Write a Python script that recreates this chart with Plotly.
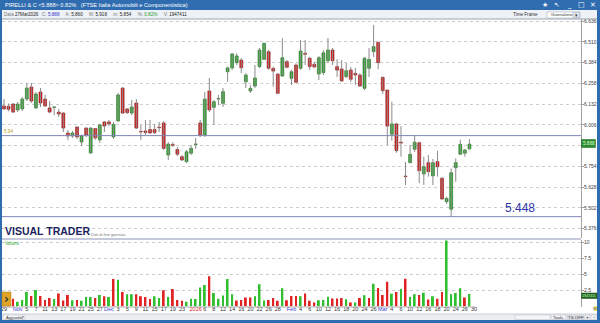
import plotly.graph_objects as go
import pandas as pd

# ---------------- data ----------------
holidays = ["2025-12-24", "2025-12-25", "2025-12-26", "2025-12-31", "2026-01-01"]
axis_dates = [d.strftime("%Y-%m-%d") for d in pd.bdate_range("2025-10-29", "2026-03-30")
              if d.strftime("%Y-%m-%d") not in holidays]

opens = [6.120, 6.118, 6.132, 6.096, 6.102, 6.162, 6.235, 6.108, 6.205, 6.162,
         6.108, 6.111, 6.083, 6.077, 5.956, 5.938, 5.992, 5.901, 5.986, 5.835,
         5.983, 5.914, 6.023, 6.023, 5.932, 6.029, 6.229, 6.102, 6.077, 6.138,
         5.965, 5.968, 5.977, 5.977, 5.989, 6.017, 5.822, 5.886, 5.856, 5.812,
         5.782, 5.833, 5.886, 6.017, 5.944, 6.211, 6.112, 6.162, 6.136, 6.328,
         6.351, 6.383, 6.399, 6.267, 6.211, 6.241, 6.359, 6.403, 6.450, 6.348,
         6.314, 6.302, 6.389, 6.288, 6.369, 6.349, 6.440, 6.410, 6.373, 6.314,
         6.322, 6.395, 6.460, 6.359, 6.345, 6.298, 6.339, 6.318, 6.308, 6.227,
         6.349, 6.450, 6.507, 6.294, 6.217, 5.948, 6.011, 5.900, 5.692, 5.776,
         5.857, 5.897, 5.707, 5.776, 5.695, 5.782, 5.681, 5.539, 5.493, 5.745,
         5.827, 5.833, 5.860]
highs = [6.162, 6.135, 6.138, 6.144, 6.175, 6.260, 6.260, 6.205, 6.229, 6.187,
         6.150, 6.117, 6.102, 6.083, 5.974, 5.968, 5.998, 5.948, 5.992, 5.992,
         5.986, 6.011, 6.029, 6.035, 6.023, 6.199, 6.235, 6.108, 6.156, 6.162,
         6.005, 6.035, 6.035, 6.011, 6.023, 6.029, 5.901, 5.901, 5.871, 5.822,
         5.853, 5.883, 5.926, 6.035, 6.205, 6.290, 6.156, 6.187, 6.229, 6.359,
         6.442, 6.440, 6.411, 6.320, 6.247, 6.369, 6.472, 6.504, 6.460, 6.359,
         6.318, 6.531, 6.399, 6.339, 6.379, 6.521, 6.521, 6.419, 6.389, 6.424,
         6.460, 6.533, 6.472, 6.405, 6.399, 6.381, 6.357, 6.351, 6.320, 6.417,
         6.472, 6.612, 6.510, 6.298, 6.217, 6.146, 6.017, 5.998, 5.781, 5.883,
         5.944, 5.903, 5.812, 5.822, 5.798, 5.848, 5.689, 5.569, 5.741, 5.802,
         5.914, 5.860, 5.918]
lows = [6.096, 6.088, 6.077, 6.083, 6.090, 6.150, 6.138, 6.102, 6.114, 6.114,
        6.077, 6.065, 6.053, 5.962, 5.914, 5.926, 5.920, 5.877, 5.932, 5.828,
        5.914, 5.895, 5.962, 5.998, 5.920, 6.023, 6.071, 6.071, 6.065, 5.980,
        5.914, 5.944, 5.950, 5.950, 5.962, 5.853, 5.792, 5.871, 5.816, 5.786,
        5.774, 5.822, 5.859, 5.932, 5.932, 6.083, 6.005, 6.126, 6.114, 6.267,
        6.339, 6.369, 6.320, 6.229, 6.199, 6.229, 6.351, 6.399, 6.339, 6.237,
        6.193, 6.296, 6.349, 6.247, 6.258, 6.339, 6.369, 6.339, 6.349, 6.278,
        6.308, 6.381, 6.369, 6.296, 6.266, 6.290, 6.266, 6.247, 6.235, 6.217,
        6.296, 6.417, 6.343, 6.193, 5.883, 5.909, 5.836, 5.812, 5.640, 5.772,
        5.841, 5.651, 5.640, 5.691, 5.640, 5.691, 5.549, 5.525, 5.448, 5.660,
        5.822, 5.812, 5.854]
closes = [6.102, 6.100, 6.083, 6.132, 6.162, 6.229, 6.150, 6.193, 6.138, 6.120,
          6.083, 6.114, 6.071, 5.986, 5.938, 5.956, 5.932, 5.938, 5.944, 5.986,
          5.926, 6.005, 5.998, 6.011, 6.008, 6.187, 6.077, 6.080, 6.114, 5.986,
          5.962, 5.959, 5.956, 5.958, 5.988, 5.862, 5.889, 5.881, 5.827, 5.792,
          5.842, 5.863, 5.887, 5.944, 6.162, 6.096, 6.146, 6.164, 6.207, 6.351,
          6.436, 6.424, 6.352, 6.308, 6.227, 6.290, 6.460, 6.501, 6.349, 6.332,
          6.197, 6.413, 6.355, 6.328, 6.264, 6.454, 6.434, 6.359, 6.357, 6.413,
          6.443, 6.460, 6.395, 6.338, 6.272, 6.334, 6.282, 6.308, 6.241, 6.410,
          6.403, 6.480, 6.383, 6.213, 5.998, 6.011, 5.849, 5.895, 5.691, 5.827,
          5.900, 5.727, 5.751, 5.721, 5.776, 5.751, 5.555, 5.559, 5.715, 5.776,
          5.887, 5.853, 5.888]
volumes_m = [1.40, 1.20, 1.22, 0.74, 1.03, 2.27, 1.64, 2.59, 1.64, 1.03,
             1.32, 1.19, 2.05, 0.93, 1.81, 0.98, 1.03, 0.88, 1.49, 1.49,
             1.32, 1.81, 1.62, 1.49, 4.30, 4.19, 2.27, 1.91, 1.91, 1.91,
             1.62, 1.49, 1.19, 1.62, 1.32, 2.53, 1.49, 2.74, 1.03, 0.88,
             0.74, 1.23, 1.19, 2.98, 3.37, 4.72, 2.10, 1.23, 1.71, 4.30,
             1.91, 0.93, 1.03, 1.42, 1.42, 1.62, 3.47, 0.93, 1.03, 1.32,
             0.88, 2.84, 0.98, 1.64, 1.64, 1.62, 2.05, 0.88, 0.64, 0.98,
             1.03, 1.52, 1.26, 1.26, 1.32, 1.13, 0.64, 0.64, 1.32, 1.76,
             1.32, 3.57, 2.88, 1.81, 3.86, 2.00, 2.27, 2.74, 4.35, 1.49,
             1.91, 1.81, 2.16, 1.08, 1.62, 1.23, 2.27, 10.30, 1.91, 2.10,
             2.84, 1.42, 1.95]

price_ticks = [6.636, 6.510, 6.384, 6.258, 6.132, 6.006, 5.880, 5.754, 5.628, 5.502, 5.376]
price_tick_text = ["6.636", "6.510", "6.384", "6.258", "6.132", "6.006", "",
                   "5.754", "5.628", "5.502", "5.376"]
vol_ticks = [2.5, 5, 7.5, 10]
vol_tick_text = ["2.5", "5", "7.5", "10"]
drawn_line_level = 5.940
support_level = 5.448
last_close_text = "5.888"
last_volume_text = "1947411"

tick_dates = ["2025-10-29", "2025-11-03", "2025-11-05", "2025-11-07", "2025-11-11", "2025-11-13",
              "2025-11-17", "2025-11-19", "2025-11-21", "2025-11-25", "2025-11-27", "2025-12-01",
              "2025-12-03", "2025-12-05", "2025-12-09", "2025-12-11", "2025-12-15", "2025-12-17",
              "2025-12-19", "2025-12-23", "2026-01-02", "2026-01-06", "2026-01-08", "2026-01-12",
              "2026-01-14", "2026-01-16", "2026-01-20", "2026-01-22", "2026-01-26", "2026-01-28",
              "2026-02-02", "2026-02-04", "2026-02-06", "2026-02-10", "2026-02-12", "2026-02-16",
              "2026-02-18", "2026-02-20", "2026-02-24", "2026-02-26", "2026-03-02", "2026-03-04",
              "2026-03-06", "2026-03-10", "2026-03-12", "2026-03-16", "2026-03-18", "2026-03-20",
              "2026-03-24", "2026-03-26", "2026-03-30"]
tick_labels = ["29", "Nov", "5", "7", "11", "13", "17", "19", "21", "25", "27", "Dec",
               "3", "5", "9", "11", "15", "17", "19", "23", "2026", "6", "8", "12",
               "14", "16", "20", "22", "26", "28", "Feb", "4", "6", "10", "12", "16",
               "18", "20", "24", "26", "Mar", "4", "6", "10", "12", "16", "18", "20",
               "24", "26", "30"]

# ---------------- derived ----------------
n = len(closes)
idx = list(range(n))
GREEN, GREEN_D = "#35b035", "#1d6d1d"
RED, RED_D = "#e02020", "#8c1010"

wx, wy = [], []
for i in idx:
    wx += [i, i, None]
    wy += [lows[i], highs[i], None]

body_base = [min(o, c) for o, c in zip(opens, closes)]
body_h = [max(abs(c - o), 0.0035) for o, c in zip(opens, closes)]
body_col = [GREEN if c >= o else RED for o, c in zip(opens, closes)]
body_edge = [GREEN_D if c >= o else RED_D for o, c in zip(opens, closes)]

vol_col = []
for i in idx:
    ref = closes[i - 1] if i > 0 else opens[i]
    vol_col.append("#2fbf2f" if closes[i] >= ref else "#e02424")

def tick_fmt(t):
    if t in ("Nov", "Dec", "Feb", "Mar"):
        return "<span style='color:#3b3bd0'>%s</span>" % t
    if t == "2026":
        return "<span style='color:#e02020'>%s</span>" % t
    return t

tick_pos = [axis_dates.index(d) for d in tick_dates]

# ---------------- geometry helpers (page pixels -> paper) ----------------
W, H = 600, 323
def px(x): return x / W
def py(y): return 1 - y / H

X0, X1 = 2, 581
PRICE_TOP, PRICE_BOT = 19, 238
VOL_TOP, VOL_BOT = 240, 306.5
step = 4.563
xr = [(X0 - 4) / step, (X1 - 4) / step]

fig = go.Figure()
fig.add_trace(go.Scatter(x=wx, y=wy, mode="lines", line=dict(color="#8a8a8a", width=1),
                         xaxis="x", yaxis="y", hoverinfo="skip"))
fig.add_trace(go.Bar(x=idx, y=body_h, base=body_base, width=0.64,
                     marker=dict(color=body_col, line=dict(color=body_edge, width=0.6)),
                     xaxis="x", yaxis="y"))
fig.add_trace(go.Bar(x=idx, y=volumes_m, width=0.42, marker=dict(color=vol_col, line=dict(width=0)),
                     xaxis="x2", yaxis="y2"))

axis_font = dict(family="Liberation Sans", size=5, color="#404040")
fig.update_layout(
    width=W, height=H, margin=dict(l=0, r=0, t=0, b=0),
    paper_bgcolor="white", plot_bgcolor="white", showlegend=False, barmode="overlay",
    xaxis=dict(domain=[px(X0), px(X1)], range=xr, showticklabels=False, showgrid=False,
               zeroline=False, anchor="y"),
    yaxis=dict(domain=[py(PRICE_BOT), py(PRICE_TOP)], range=[6.7635 - 0.006072 * PRICE_BOT,
               6.7635 - 0.006072 * PRICE_TOP], side="right", tickvals=price_ticks,
               ticktext=price_tick_text, tickfont=axis_font, showgrid=True, gridcolor="#cdcdcd",
               griddash="dot", gridwidth=1, zeroline=False, showline=True, linecolor="#a0a0a0",
               linewidth=1, ticks="outside", ticklen=2, tickcolor="#a0a0a0", anchor="x",
               ticklabelstandoff=-1),
    xaxis2=dict(domain=[px(X0), px(X1)], range=xr, matches="x", anchor="y2",
                tickvals=tick_pos, ticktext=[tick_fmt(t) for t in tick_labels],
                tickfont=dict(family="Liberation Sans", size=5.5, color="#303030"),
                showgrid=False, zeroline=False, ticks="", tickangle=0, ticklabelstandoff=-2),
    yaxis2=dict(domain=[py(VOL_BOT), py(VOL_TOP)], range=[0, (VOL_BOT - VOL_TOP) / 6.4],
                side="right", tickvals=vol_ticks, ticktext=vol_tick_text, tickfont=axis_font,
                showgrid=True, gridcolor="#cdcdcd", griddash="dot", zeroline=False,
                showline=True, linecolor="#a0a0a0", linewidth=1, ticks="outside", ticklen=2,
                tickcolor="#a0a0a0", anchor="x2", ticklabelstandoff=-1),
)

shapes = []
def rect(x0, y0, x1, y1, fill, line=None, lw=0, layer="above"):
    shapes.append(dict(type="rect", xref="paper", yref="paper", x0=px(x0), x1=px(x1),
                       y0=py(y1), y1=py(y0), fillcolor=fill,
                       line=dict(color=line or fill, width=lw), layer=layer))
def hline(x0, x1, y, color, w=1):
    shapes.append(dict(type="line", xref="paper", yref="paper", x0=px(x0), x1=px(x1),
                       y0=py(y), y1=py(y), line=dict(color=color, width=w), layer="above"))

BLUE = "#2f6db0"
# title bar and toolbar
rect(0, 0, 600, 10, BLUE)
rect(0, 10, 600, 19, "#eef1f5")
hline(0, 600, 19, "#9aa5b5")
# window borders
rect(0, 10, 2, 323, BLUE)
rect(597, 10, 600, 323, BLUE)
rect(0, 320, 600, 323, BLUE)
# bottom bar
rect(2, 314, 597, 320, "#eceef1")
hline(2, 597, 314, "#c9ced6")
# panel separator
hline(2, 581, 239, "#8b93b8")
# drawn horizontal lines (data coordinates)
for lvl in (drawn_line_level, support_level):
    shapes.append(dict(type="line", xref="x", yref="y", x0=xr[0], x1=xr[1], y0=lvl, y1=lvl,
                       line=dict(color="#7f86b8", width=1), layer="above"))
# x axis baseline
shapes.append(dict(type="line", xref="x2", yref="paper", x0=xr[0], x1=len(axis_dates) - 1 + 0.3,
                   y0=py(VOL_BOT + 0.5), y1=py(VOL_BOT + 0.5), line=dict(color="#b0b0b0", width=1)))
# last price / last volume boxes
rect(581.5, 139.5, 595.5, 147.5, "#2e8b2e", "#1d5e1d", 0.5)
rect(581.5, 293, 597, 298.5, "#1f6a1f", "#144514", 0.5)
# scroll button in volume panel
rect(2, 292, 11, 306, "#e0a526", "#b07a10", 0.5)
# bottom bar widgets
rect(3, 315, 19, 319.5, "#f7f7f7", "#b8bec8", 0.5)
rect(20.5, 315, 25, 319.5, "#f7f7f7", "#b8bec8", 0.5)
rect(515, 315, 550, 319.5, "#f4f5f7", "#b8bec8", 0.5)
rect(551, 315, 566, 319.5, "#f4f5f7", "#b8bec8", 0.5)
rect(567, 315, 584, 319.5, "#dfe3ea", "#b8bec8", 0.5)
rect(585, 315, 590, 319.5, "#f4f5f7", "#b8bec8", 0.5)
rect(591, 315, 596, 319.5, "#f4f5f7", "#b8bec8", 0.5)
# time frame dropdown
rect(547, 12, 580, 18, "white", "#9aa5b5", 0.5)
rect(573, 12.5, 579.5, 17.5, "#e4e8ee", "#9aa5b5", 0.5)
# ML marker
rect(594, 306, 597, 311, "#f3e36a")
fig.update_layout(shapes=shapes)

ann = []
def text(x, y, s, size=5, color="#333", xa="left", ya="middle", bold=False, family="Liberation Sans"):
    if bold:
        s = "<b>%s</b>" % s
    ann.append(dict(xref="paper", yref="paper", x=px(x), y=py(y), text=s, showarrow=False,
                    xanchor=xa, yanchor=ya, font=dict(size=size, color=color, family=family)))

text(3, 5, "PIRELLI &amp; C &lt;5.888&gt; 0.82%   (FTSE Italia Automobili e Componentistica)",
     size=5.6, color="white")
for xx, sym in [(545, "★"), (557, "↖"), (569, "_"), (581, "□"), (593, "✕")]:
    text(xx, 5, sym, size=7, color="white", xa="center", family="DejaVu Sans")
text(2, 14.5, "<span style='color:#777'>Data</span> 27Mar2026   <span style='color:#777'>C:</span> "
     "<span style='color:#3030d0'>5.888</span>     <span style='color:#777'>A:</span> 5.860     "
     "<span style='color:#777'>M:</span> 5.918     <span style='color:#777'>m:</span> 5.854     "
     "<span style='color:#777'>%:</span> <span style='color:#1f9a1f'>0.82%</span>     "
     "<span style='color:#777'>V:</span> 1947411", size=4.6, color="#222")
text(511, 14.5, "Time Frame", size=4.6, color="#333")
text(549, 15, "Giornaliero", size=4.4, color="#333")
text(576.3, 15, "▾", size=5, color="#333", xa="center", family="DejaVu Sans")
# price line labels
text(2, 131.5, "5.94", size=4.6, color="#b59a1a")
text(520, 207.5, "5.448", size=12, color="#2b34a8", xa="center", family="Liberation Sans")
text(588.5, 143.6, last_close_text, size=4.6, color="#dfffdc", xa="center")
text(589.3, 295.8, last_volume_text, size=3.6, color="#dfffdc", xa="center")
# logo
text(3, 231, "VISUAL TRADER", size=10.5, color="#1d1f5e", bold=True, family="Liberation Sans")
text(89, 234.5, "Dati di fine giornata", size=4, color="#777")
text(3, 243.5, "Volumi", size=4.6, color="#2aa52a")
text(6.5, 299, "›", size=12, color="#333", xa="center", family="DejaVu Sans", bold=True)
# bottom bar labels
text(3.5, 317.3, "Aggiorna", size=4.2, color="#333")
text(22.8, 317.3, "▾", size=3.6, color="#555", xa="center", family="DejaVu Sans")
text(558.5, 317.3, "Tools", size=4.4, color="#333", xa="center")
text(575.5, 317.3, "TS OFF", size=4.4, color="#333", xa="center")
text(587.5, 317.3, "+", size=5, color="#333", xa="center")
text(593.5, 317.3, "-", size=5, color="#333", xa="center")
text(595.5, 308.5, "ML", size=3.2, color="#555", xa="center")
fig.update_layout(annotations=ann)

fig.write_html("out.html")
